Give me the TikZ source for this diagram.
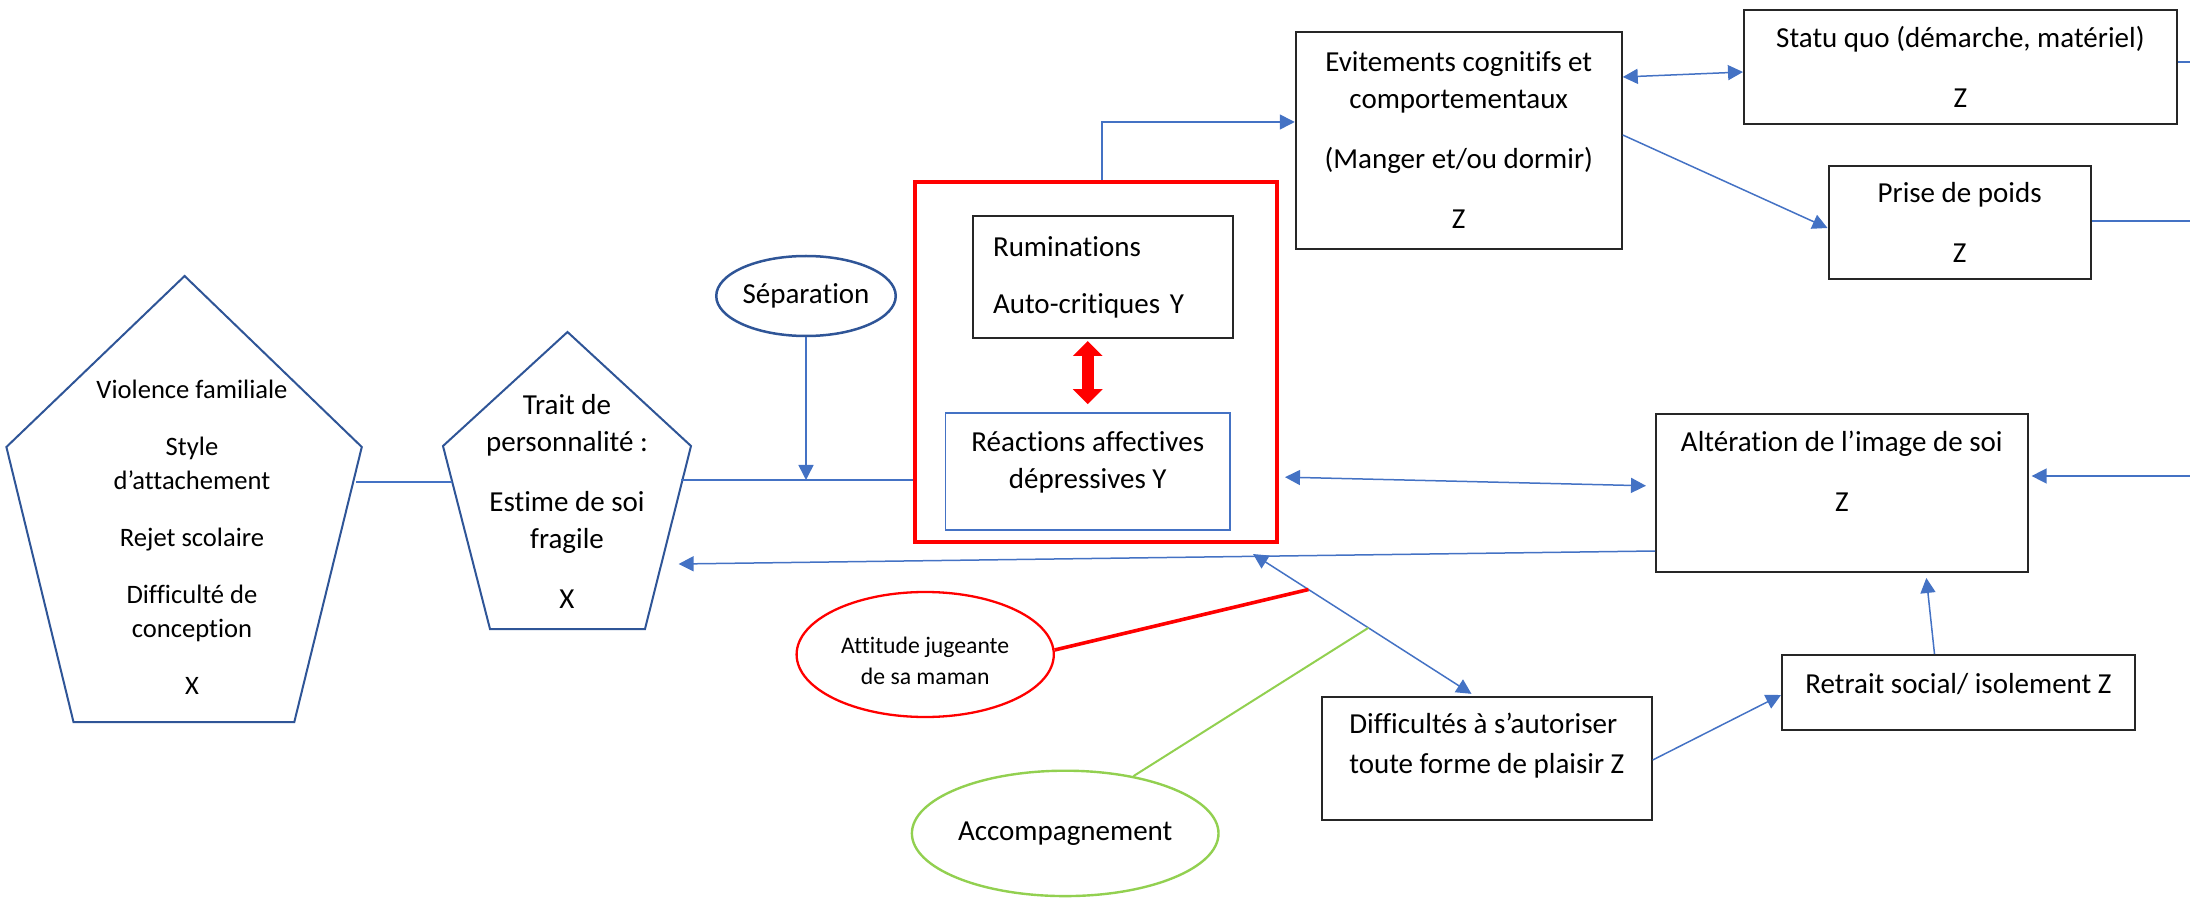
\documentclass[tikz,border=0pt]{standalone}
\usepackage{fontspec}
\setmainfont{Carlito}[Ligatures=NoCommon]
\usepackage{xcolor}
\usepackage{tikz}
\usetikzlibrary{arrows.meta,shapes.geometric,calc}

\definecolor{lienbleu}{RGB}{68,114,196}
\definecolor{bleufonce}{RGB}{47,85,151}
\definecolor{vertclair}{RGB}{146,208,80}

\begin{document}
\begin{tikzpicture}[
  x=0.5pt, y=-0.5pt,
  txt/.style={font=\fontsize{14.5pt}{18.5pt}\selectfont, align=center},
  box/.style={txt, draw=black!85, line width=1pt, inner sep=0pt},
  oval/.style={txt, ellipse, line width=1.25pt, inner sep=0pt},
  pent/.style={draw=bleufonce, line width=1pt},
  link/.style={draw=lienbleu, line width=0.75pt},
  arr/.style={link, -{Triangle[length=7.5pt,width=7.5pt]}},
  biarr/.style={link, {Triangle[length=7.5pt,width=7.5pt]}-{Triangle[length=7.5pt,width=7.5pt]}},
  bigarr/.style={red, line width=6pt, {Triangle[length=7.5pt,width=14.5pt]}-{Triangle[length=7.5pt,width=14.5pt]}}
]
\useasboundingbox (0,0) rectangle (2190,898);

\draw[pent] (184.6,276) -- (361.8,447) -- (294.3,722) -- (73.5,722) -- (6.4,447) -- cycle;
\node[txt, font=\fontsize{13.3pt}{17pt}\selectfont] (famille) at (192,537)
  {Violence familiale\\[11.5pt] Style\\ d’attachement\\[11.5pt] Rejet scolaire\\[11.5pt]
   Difficulté de\\ conception\\[11.5pt] X};

\draw[pent] (567.5,332) -- (691,446) -- (645,629) -- (490,629) -- (443,446) -- cycle;
\node[txt] (trait) at (567,501)
  {Trait de\\ personnalité :\\[11.5pt] Estime de soi\\ fragile\\[11.5pt] X};

\node[oval, draw=bleufonce, minimum width=89pt, minimum height=40pt] (sep) at (806,296) {Séparation};

\node[draw=red, line width=2pt, minimum width=181pt, minimum height=180pt, inner sep=0pt] (cadre) at (1096,362) {};
\node[box, align=left, text width=110pt, inner xsep=10pt, minimum width=130pt, minimum height=61pt] (rumin) at (1103,277)
  {Ruminations\\[10pt] Auto-critiques Y};
\node[box, draw=lienbleu, line width=0.75pt, minimum width=142.25pt, minimum height=58.5pt] (reac) at (1087.75,471.5)
  {Réactions affectives\\ dépressives Y\\[-7.5pt] \mbox{}};

\node[box, minimum width=163pt, minimum height=108.5pt] (evit) at (1458.75,140.5)
  {Evitements cognitifs et\\ comportementaux\\[11.5pt] (Manger et/ou dormir)\\[11.5pt] Z};
\node[box, minimum width=216.35pt, minimum height=57pt] (statu) at (1960.35,67)
  {Statu quo (démarche, matériel)\\[11.5pt] Z};
\node[box, minimum width=131.15pt, minimum height=56.5pt] (prise) at (1959.65,222.5)
  {Prise de poids\\[11.5pt] Z};
\node[box, minimum width=185.8pt, minimum height=79pt] (alter) at (1841.8,493)
  {Altération de l’image de soi\\[11.5pt] Z\\[3.5pt] \mbox{}};
\node[box, minimum width=176.5pt, minimum height=37.5pt, text height=10pt, text depth=9.5pt] (retrait) at (1958.5,692.5)
  {Retrait social/ isolement Z};
\node[box, align=left, minimum width=164.85pt, minimum height=61.5pt] (diff) at (1486.85,758.5)
  {Difficultés à s’autoriser\\[1.5pt] toute forme de plaisir Z\\[-3pt] \mbox{}};

\node[oval, draw=red, line width=1.15pt, minimum width=128.6pt, minimum height=62.5pt,
  font=\fontsize{11.85pt}{15.5pt}\selectfont] (jugeante) at (925.2,654.5) {\mbox{}\\[-0.8pt] Attitude jugeante\\ de sa maman};
\node[oval, draw=vertclair, line width=1.2pt, minimum width=153.3pt, minimum height=62.7pt] (accomp) at (1065.2,833.4)
  {Accompagnement};

\coordinate (familleE) at (356,482);
\coordinate (traitW) at (452,482);
\coordinate (traitE) at (681,480);
\coordinate (traitIn) at (678.6,564);
\coordinate (bordA) at (2190,62);
\coordinate (bordB) at (2190,221);
\coordinate (bordC) at (2190,476);

\draw[link] (familleE) -- (traitW);
\draw[link] (traitE) -- (cadre.west |- traitE);
\draw[arr] (sep.south) -- (sep.south |- traitE);
\draw[arr] ([xshift=3pt]cadre.north) |- ([yshift=9.25pt]evit.west);
\draw[bigarr, shorten <=1pt, shorten >=4pt] (rumin.south -| reac.north) -- (reac.north);

\draw[biarr] ([yshift=31.75pt]evit.east) -- ([yshift=-2.5pt]statu.west);
\draw[arr] ([yshift=2.75pt]evit.east) -- ([yshift=-2.75pt]prise.west);
\draw[link] ([yshift=2.5pt]statu.east) -- (bordA);
\draw[link] ([yshift=0.75pt]prise.east) -- (bordB);
\draw[arr, shorten >=1.5pt] (bordC) -- ([yshift=8.5pt]alter.east);

\draw[biarr, shorten <=3pt, shorten >=4.5pt] ([yshift=-57.5pt]cadre.east) -- ([yshift=3.5pt]alter.west);
\draw[arr] ([yshift=-29pt]alter.west) -- (traitIn);
\draw[biarr, shorten <=2pt] ([xshift=-6pt]diff.north)
  -- coordinate[pos=0.48] (ptVert) coordinate[pos=0.75] (ptRouge) ([shift={(78.5pt,-5pt)}]cadre.south);
\draw[arr] ([yshift=-0.75pt]diff.east) -- ([yshift=-1.25pt]retrait.west);
\draw[arr, shorten >=2.5pt] ([xshift=-12pt]retrait.north) -- ([xshift=42pt]alter.south);

\draw[red, line width=1.8pt] (jugeante.2) -- (ptRouge);
\draw[vertclair, line width=1pt] (accomp.40) -- (ptVert);

\end{tikzpicture}
\end{document}
